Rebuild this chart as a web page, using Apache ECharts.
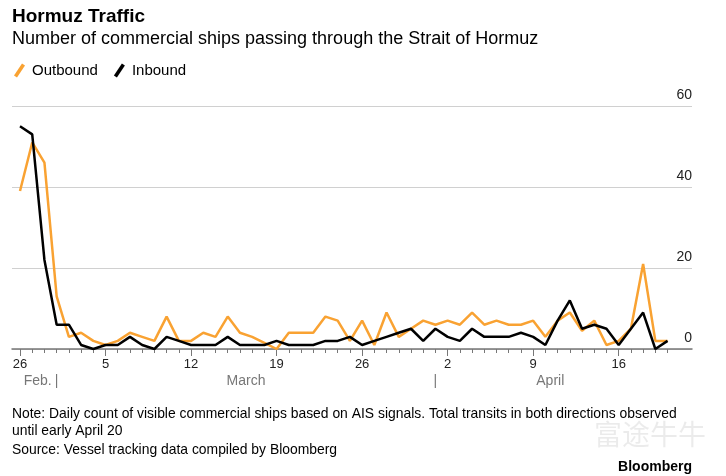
<!DOCTYPE html>
<html>
<head>
<meta charset="utf-8">
<script src="https://cdn.jsdelivr.net/npm/echarts@6/dist/echarts.min.js"></script>
<style>
html,body{margin:0;padding:0;background:#fff;}
#c{width:726px;height:476px;}
</style>
</head>
<body>
<div id="c"></div>
<script>
// Day index 0 = Feb 26, last = Apr 20
const outbound = [39,51,46,13,3,4,2,1,2,4,3,2,8,2,2,4,3,8,4,3,1.5,0,4,4,4,8,7,2,7,1,9,3,5,7,6,7,6,9,6,7,6,6,7,3,7,9,4.5,7,1,2,5,21,2,2];
const inbound  = [55,53,22,6,6,1,0,1,1,3,1,0,3,2,1,1,1,3,1,1,1,2,1,1,1,2,2,3,1,2,3,4,5,2,5,3,2,5,3,3,3,4,3,1,7,12,5,6,5,1,5,9,0,2];
const tickDays = [0,7,14,21,28,35,42,49];
const tickLabels = ['26','5','12','19','26','2','9','16'];
const monthPos = [1.45,3,18.5,34,43.4];
const monthLabels = ['Feb.','|','March','|','April'];

const FONT = "'Liberation Sans', Arial, sans-serif";
const chart = echarts.init(document.getElementById('c'), null, {renderer:'canvas'});
const dayTicks = outbound.map((v,i)=>i);

const slash = 'path://M0,12 L8,0 L11,2 L3,14 Z';

chart.setOption({
  animation:false,
  textStyle:{fontFamily:FONT},
  graphic:[
    {type:'text', left:12, top:7, style:{text:'Hormuz Traffic', font:"bold 19px "+FONT, fill:'#000'}},
    {type:'text', left:12, top:30, style:{text:'Number of commercial ships passing through the Strait of Hormuz', font:"18px "+FONT, fill:'#000'}},
    {type:'text', left:12, top:406, style:{text:'Note: Daily count of visible commercial ships based on AIS signals. Total transits in both directions observed\nuntil early April 20', font:"13.9px "+FONT, fill:'#000', lineHeight:17}},
    {type:'text', left:12, top:443, style:{text:'Source: Vessel tracking data compiled by Bloomberg', font:"13.9px "+FONT, fill:'#000'}},
    {type:'text', right:34, top:460, style:{text:'Bloomberg', font:"bold 14px "+FONT, fill:'#000'}},
    {type:'text', left:594, top:420, style:{text:'富途牛牛', font:"28px 'Noto Sans CJK SC'", fill:'rgba(0,0,0,0.08)'}}
  ],
  legend:{
    left:9, top:58, itemWidth:11, itemHeight:14, itemGap:16,
    textStyle:{fontSize:15, color:'#000', fontFamily:FONT, padding:[0,0,0,2]},
    data:[{name:'Outbound', icon:slash},{name:'Inbound', icon:slash}]
  },
  grid:{left:12, right:34, top:106, bottom:127, containLabel:false},
  xAxis:[
    {type:'value', min:-0.655, max:55, position:'bottom',
     axisLine:{show:true, lineStyle:{color:'#777', width:1.5}},
     axisTick:{show:true, customValues:tickDays, length:7, lineStyle:{color:'#777', width:1}},
     axisLabel:{show:true, customValues:tickDays, margin:9, fontSize:13, color:'#222',
       formatter:(v)=>{const k=tickDays.indexOf(Math.round(v)); return k>=0?tickLabels[k]:'';}},
     splitLine:{show:false}},
    {type:'value', min:-0.655, max:55, position:'bottom', gridIndex:0,
     axisLine:{show:false},
     axisTick:{show:true, customValues:dayTicks, length:4, lineStyle:{color:'#777', width:1}},
     axisLabel:{show:false}, splitLine:{show:false}},
    {type:'value', min:-0.655, max:55, position:'bottom', gridIndex:0,
     axisLine:{show:false}, axisTick:{show:false},
     axisLabel:{show:true, customValues:monthPos, margin:25, fontSize:14, color:'#777',
       formatter:(v)=>{let best=0;for(let i=0;i<monthPos.length;i++){if(Math.abs(monthPos[i]-v)<Math.abs(monthPos[best]-v))best=i;}return monthLabels[best];}},
     splitLine:{show:false}}
  ],
  yAxis:{type:'value', min:0, max:60, interval:20, position:'right',
    axisLine:{show:false}, axisTick:{show:false},
    axisLabel:{inside:true, margin:0, fontSize:14, color:'#222', verticalAlign:'bottom', align:'right', padding:[0,0,4,0]},
    splitLine:{show:true, lineStyle:{color:'#d0d0d0', width:1}}},
  series:[
    {name:'Outbound', type:'line', xAxisIndex:0, symbol:'none', data:outbound.map((v,i)=>[i,v]),
     lineStyle:{color:'#f9a232', width:2.5}, itemStyle:{color:'#f9a232'}},
    {name:'Inbound', type:'line', xAxisIndex:0, symbol:'none', data:inbound.map((v,i)=>[i,v]),
     lineStyle:{color:'#000', width:2.5}, itemStyle:{color:'#000'}}
  ]
});
</script>
</body>
</html>
